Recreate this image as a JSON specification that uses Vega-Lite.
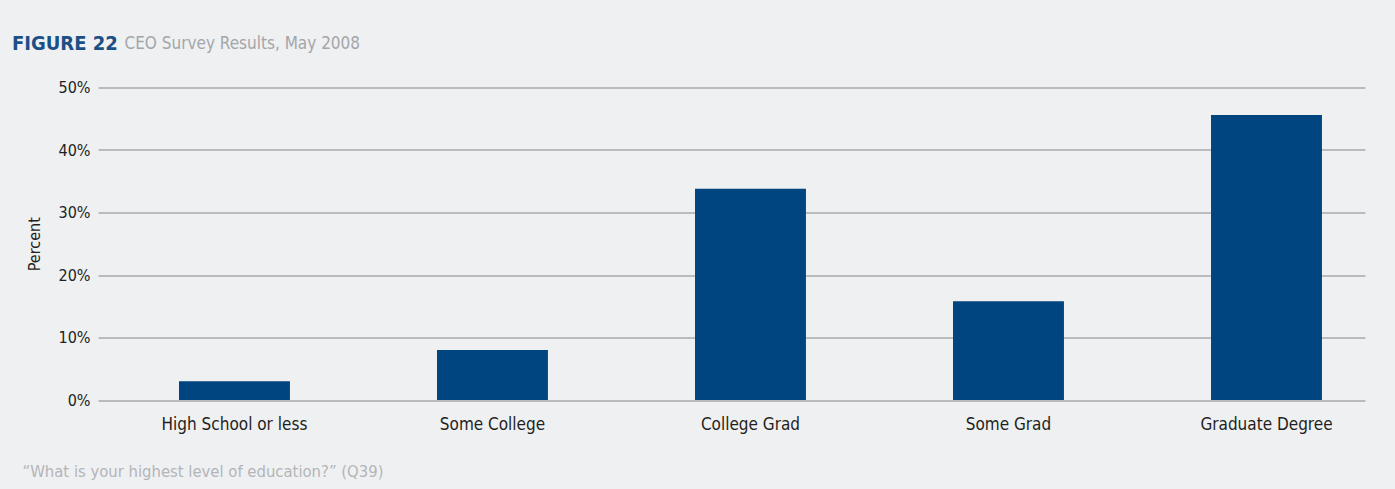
{
  "$schema": "https://vega.github.io/schema/vega-lite/v6.json",
  "autosize": {"type": "none"},
  "width": 1267,
  "height": 312.5,
  "padding": {"left": 98, "top": 87.5, "right": 30, "bottom": 89},
  "background": "#eff0f2",
  "title": {
    "text": "FIGURE 22",
    "anchor": "start",
    "frame": "group",
    "dx": -86,
    "offset": -35,
    "baseline": "alphabetic",
    "font": "DejaVu Sans Condensed",
    "fontSize": 20,
    "fontWeight": "bold",
    "color": "#1b4f86"
  },
  "data": {
    "values": [
      {"education": "High School or less", "percent": 3.0},
      {"education": "Some College", "percent": 8.0},
      {"education": "College Grad", "percent": 33.8},
      {"education": "Some Grad", "percent": 15.8},
      {"education": "Graduate Degree", "percent": 45.6}
    ]
  },
  "config": {
    "view": {"stroke": null},
    "axis": {
      "labelFont": "DejaVu Sans Condensed",
      "titleFont": "DejaVu Sans Condensed",
      "labelColor": "#231f20",
      "titleColor": "#231f20"
    }
  },
  "layer": [
    {
      "mark": {"type": "bar", "color": "#00457f"},
      "encoding": {
        "x": {
          "field": "education",
          "type": "nominal",
          "sort": null,
          "scale": {"paddingInner": 0.57, "paddingOuter": 0.2404, "align": 0.653},
          "axis": {
            "orient": "bottom",
            "labelAngle": 0,
            "labelFontSize": 17,
            "labelPadding": 16,
            "ticks": false,
            "domain": false,
            "title": "“What is your highest level of education?” (Q39)",
            "titleAnchor": "start",
            "titleX": -76,
            "titleY": 76,
            "titleBaseline": "alphabetic",
            "titleFontSize": 16.5,
            "titleFontWeight": "normal",
            "titleColor": "#b3b5b8"
          }
        },
        "y": {
          "field": "percent",
          "type": "quantitative",
          "scale": {"domain": [0, 50]},
          "axis": {
            "values": [0, 10, 20, 30, 40, 50],
            "labelExpr": "datum.value + '%'",
            "labelFontSize": 16,
            "labelPadding": 8,
            "ticks": false,
            "domain": false,
            "grid": true,
            "gridColor": "#a9aaac",
            "gridWidth": 1.6,
            "title": "Percent",
            "titleFontSize": 16,
            "titleFontWeight": "normal",
            "titlePadding": 16
          }
        }
      }
    },
    {
      "mark": {"type": "bar", "opacity": 0},
      "encoding": {
        "x": {
          "field": "education",
          "type": "nominal",
          "sort": null,
          "axis": {
            "orient": "top",
            "labels": false,
            "ticks": false,
            "domain": false,
            "title": "CEO Survey Results, May 2008",
            "titleAnchor": "start",
            "titleAlign": "left",
            "titleX": 26,
            "titleY": -39,
            "titleBaseline": "alphabetic",
            "titleFontSize": 17,
            "titleFontWeight": "normal",
            "titleColor": "#a3a6a9"
          }
        },
        "y": {"field": "percent", "type": "quantitative"}
      }
    }
  ],
  "resolve": {"axis": {"x": "independent"}}
}
